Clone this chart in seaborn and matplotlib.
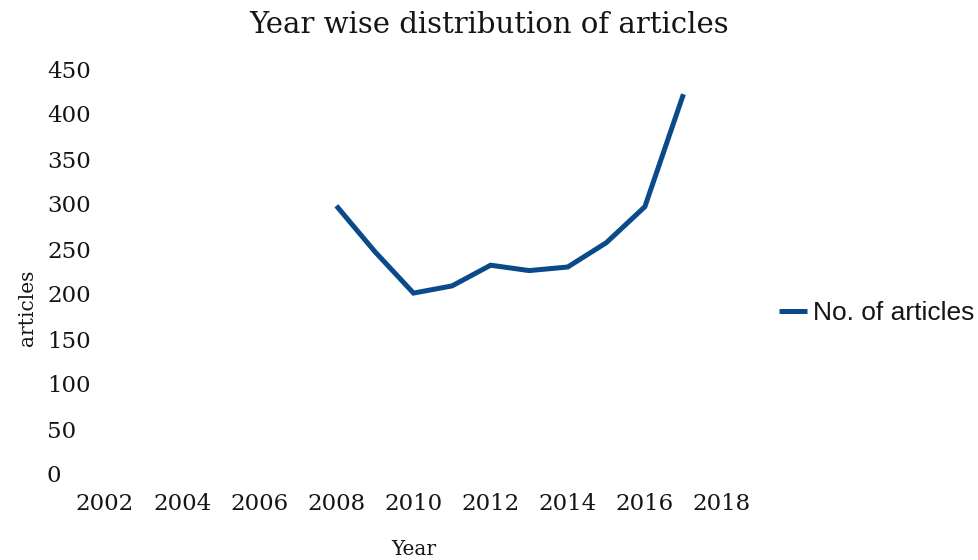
import matplotlib
matplotlib.use("Agg")
import matplotlib.pyplot as plt
import seaborn as sns
import pandas as pd

years = [2008, 2009, 2010, 2011, 2012, 2013, 2014, 2015, 2016, 2017]
articles = [298, 247, 201, 209, 232, 226, 230, 257, 297, 422]
x_ticks = [2002, 2004, 2006, 2008, 2010, 2012, 2014, 2016, 2018]
y_ticks = [0, 50, 100, 150, 200, 250, 300, 350, 400, 450]
series_name = "No. of articles"
title = "Year wise distribution of articles"

df = pd.DataFrame({"Year": years, "articles": articles, "series": series_name})

sns.set_theme(style="white")
plt.rcParams["font.family"] = ["DejaVu Serif"]

W, H = 979, 560
fig = plt.figure(figsize=(W / 100, H / 100), dpi=100)
ax = fig.add_axes([105 / W, 1 - 474 / H, (722 - 105) / W, (474 - 69) / H])

color = "#0a4a8a"
sns.lineplot(data=df, x="Year", y="articles", hue="series", palette=[color],
             linewidth=3.6, ax=ax, legend=True)
for ln in ax.lines:
    ln.set_solid_capstyle("butt")
    ln.set_solid_joinstyle("miter")

ax.set_xlim(2002, 2018)
ax.set_ylim(0, 450)
ax.set_xticks(x_ticks)
ax.set_yticks(y_ticks)
ax.set_xticklabels([str(v) for v in x_ticks])
ax.set_yticklabels([str(v) for v in y_ticks])
for s in ax.spines.values():
    s.set_visible(False)
ax.grid(False)
ax.tick_params(axis="both", length=0, labelsize=16.5, colors="#151515")
ax.tick_params(axis="y", pad=58 * 0.72)
ax.tick_params(axis="x", pad=19 * 0.72)
for lab in ax.get_yticklabels():
    lab.set_horizontalalignment("left")
ax.set_xlabel("")
ax.set_ylabel("")

fig.text(0.5, 1 - 33 / H, title, ha="center", va="baseline",
         fontsize=21, color="#151515")
fig.text(414 / W, 1 - 555 / H, "Year", ha="center", va="baseline",
         fontsize=14.5, color="#151515")
fig.text(28 / W, 1 - 270 / H, "articles", ha="right", va="center",
         rotation=90, rotation_mode="anchor", fontsize=14.5, color="#151515")

handles, labels = ax.get_legend_handles_labels()
if ax.legend_:
    ax.legend_.remove()
leg = fig.legend(handles, labels, loc="center left",
                 bbox_to_anchor=(779 / W, 1 - 313 / H),
                 bbox_transform=fig.transFigure,
                 frameon=False, borderpad=0, borderaxespad=0,
                 handlelength=1.06, handletextpad=0.23,
                 prop={"family": "Liberation Sans", "size": 19})
for t in leg.get_texts():
    t.set_color("#151515")

fig.savefig("out.png", dpi=100, facecolor="white")
